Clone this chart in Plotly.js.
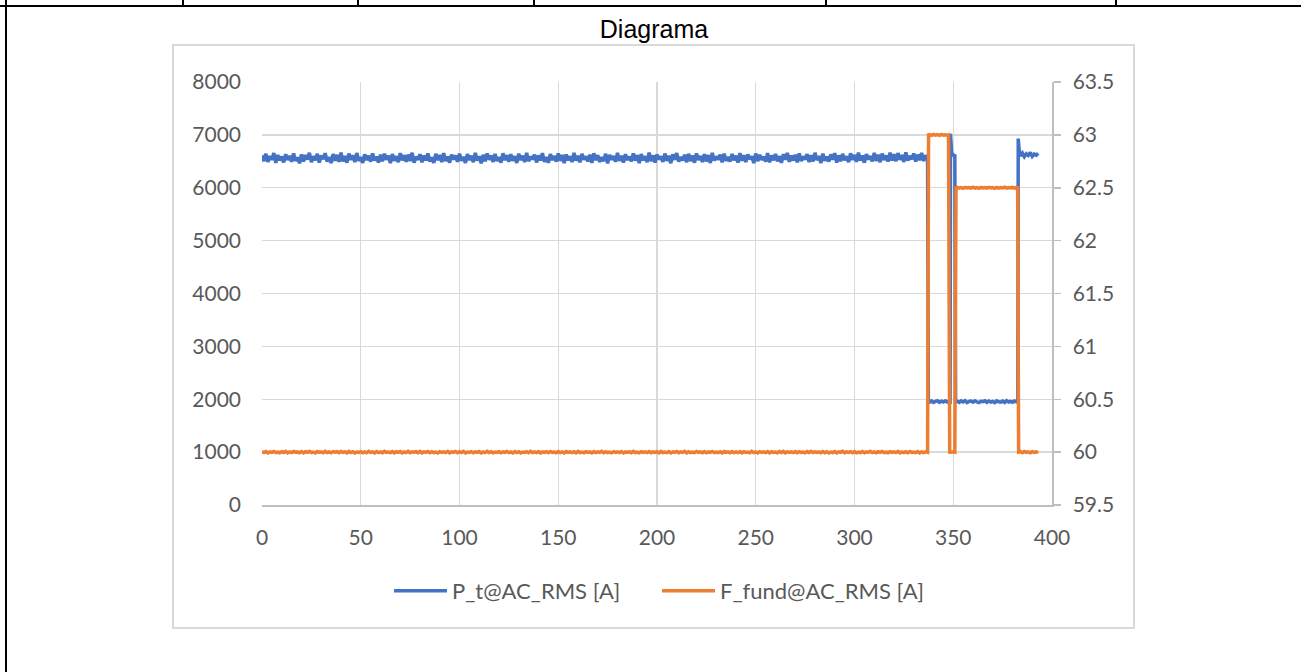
<!DOCTYPE html>
<html><head><meta charset="utf-8">
<script src="https://cdn.plot.ly/plotly-3.0.1.min.js"></script>
<style>
html,body{margin:0;padding:0;background:#fff;width:1301px;height:672px;overflow:hidden;}
#wrap{position:relative;width:1301px;height:672px;}
.ln{position:absolute;background:#000;}
#box{position:absolute;left:172px;top:44px;width:963px;height:585px;border:2px solid #d9d9d9;box-sizing:border-box;}
#chart{position:absolute;left:0;top:0;width:1301px;height:672px;}
</style></head>
<body>
<div id="wrap">
  <div class="ln" style="left:5px;top:0;width:2px;height:672px;"></div>
  <div class="ln" style="left:0;top:5px;width:1301px;height:2px;"></div>
  <div class="ln" style="left:182px;top:0;width:2px;height:6px;"></div>
  <div class="ln" style="left:357px;top:0;width:2px;height:6px;"></div>
  <div class="ln" style="left:533px;top:0;width:2px;height:6px;"></div>
  <div class="ln" style="left:825px;top:0;width:2px;height:6px;"></div>
  <div class="ln" style="left:1115px;top:0;width:2px;height:6px;"></div>
  <div id="box"></div>
  <div id="chart"></div>
</div>
<script>
// ---- Data ----
const seriesNames = ['P_t@AC_RMS [A]', 'F_fund@AC_RMS [A]'];
const chartTitle = 'Diagrama';

// P_t, steady part, one sample per second (t = 0 .. 337)
const pSteady = [
6611,6503,6642,6488,6597,6531,6655,6472,6620,6515,6588,6479,6634,6526,6602,6491,6648,6508,6575,6463,
6629,6497,6617,6534,6660,6482,6593,6519,6641,6476,6608,6540,6652,6495,6583,6467,6637,6512,6621,6489,
6664,6501,6599,6473,6646,6528,6613,6486,6657,6509,6580,6470,6631,6522,6604,6494,6649,6515,6590,6478,
6624,6499,6643,6532,6606,6465,6638,6511,6596,6484,6653,6520,6615,6490,6627,6505,6662,6476,6587,6529,
6633,6481,6609,6517,6650,6496,6578,6468,6640,6524,6618,6487,6656,6503,6592,6474,6628,6536,6611,6492,
6645,6509,6585,6471,6636,6527,6603,6483,6658,6514,6594,6462,6622,6500,6647,6530,6610,6488,6639,6506,
6579,6477,6651,6521,6616,6493,6635,6510,6598,6469,6644,6525,6607,6485,6661,6502,6589,6538,6626,6479,
6612,6516,6654,6490,6582,6473,6637,6528,6601,6495,6648,6508,6619,6466,6630,6519,6595,6486,6659,6512,
6606,6480,6641,6533,6591,6497,6625,6470,6652,6523,6614,6489,6577,6504,6643,6461,6620,6531,6599,6492,
6657,6507,6608,6475,6634,6526,6586,6498,6649,6513,6617,6468,6638,6520,6597,6484,6663,6502,6612,6478,
6628,6535,6593,6491,6646,6511,6604,6464,6632,6529,6655,6496,6581,6517,6623,6483,6642,6505,6609,6474,
6650,6524,6600,6487,6636,6499,6618,6469,6660,6514,6590,6532,6627,6481,6645,6508,6584,6493,6639,6521,
6605,6476,6653,6510,6615,6488,6631,6537,6594,6467,6647,6503,6622,6526,6588,6495,6656,6482,6611,6518,
6640,6500,6598,6472,6634,6529,6658,6491,6607,6515,6625,6479,6649,6506,6592,6534,6637,6486,6616,6497,
6661,6522,6603,6468,6644,6511,6587,6494,6629,6530,6654,6477,6613,6502,6641,6519,6596,6485,6650,6527,
6620,6490,6663,6513,6609,6474,6638,6536,6600,6498,6657,6509,6624,6483,6646,6525,6610,6496,6665,6516,
6632,6503,6655,6528,6618,6489,6667,6512,6602,6538,6648,6495,6626,6521,6659,6506,6614,6530
];
// P_t, event part
const pEventTime = [337.4,338,339,340,341,342,343,344,345,346,347,348,348.4,348.6,349.2,350.2,350.8,351.2,
352,353,354,355,356,357,358,359,360,361,362,363,364,365,366,367,368,369,370,371,372,373,374,375,376,377,378,379,380,381,382,
382.7,382.9,383.5,384,385,386,387,388,389,390,391,392,393];
const pEvent = [1958,1944,1967,1939,1958,1972,1941,1963,1948,1970,1945,1955,1950,7020,6660,6610,6630,1950,
1962,1941,1968,1947,1973,1938,1957,1965,1943,1970,1949,1936,1961,1954,1971,1940,1966,1945,1958,1935,1969,1952,1944,1964,1939,1973,1947,1960,1942,1967,1950,
1955,6930,6660,6602,6655,6588,6641,6610,6668,6594,6637,6615,6650];

// F_fund, steady part (t = 0 .. 337)
const fSteady = [
60.004,59.996,60.006,59.993,60.002,59.998,60.007,59.995,60.001,59.994,60.005,59.997,60.008,59.992,60.003,59.996,60.006,59.999,60.002,59.994,
60.005,59.993,60.004,59.997,60.007,59.995,60.001,59.992,60.006,59.998,60.003,59.994,60.008,59.996,60.002,59.993,60.005,59.999,60.004,59.995,
60.006,59.997,60.002,59.993,60.007,59.996,60.004,59.992,60.001,59.998,60.005,59.994,60.003,59.995,60.008,59.997,60.002,59.993,60.006,59.996,
60.003,59.994,60.007,59.998,60.001,59.995,60.005,59.992,60.004,59.997,60.006,59.993,60.002,59.996,60.008,59.994,60.003,59.999,60.005,59.995,
60.007,59.993,60.002,59.997,60.006,59.994,60.004,59.996,60.001,59.992,60.005,59.998,60.003,59.995,60.007,59.993,60.002,59.997,60.006,59.994,
60.004,59.996,60.008,59.993,60.001,59.997,60.005,59.994,60.003,59.998,60.006,59.992,60.002,59.995,60.007,59.996,60.004,59.993,60.001,59.997,
60.005,59.994,60.003,59.998,60.007,59.995,60.002,59.993,60.006,59.996,60.004,59.992,60.001,59.997,60.005,59.994,60.008,59.996,60.003,59.995,
60.006,59.993,60.002,59.997,60.004,59.995,60.007,59.998,60.001,59.994,60.005,59.996,60.003,59.992,60.006,59.997,60.002,59.995,60.004,59.993,
60.007,59.996,60.001,59.994,60.005,59.998,60.003,59.993,60.006,59.995,60.002,59.997,60.008,59.994,60.004,59.996,60.001,59.993,60.005,59.998,
60.003,59.995,60.006,59.992,60.002,59.997,60.004,59.994,60.007,59.996,60.001,59.993,60.005,59.998,60.003,59.995,60.006,59.994,60.002,59.997,
60.004,59.993,60.007,59.996,60.001,59.995,60.005,59.992,60.003,59.998,60.006,59.994,60.002,59.997,60.008,59.993,60.004,59.996,60.001,59.995,
60.006,59.997,60.003,59.994,60.005,59.993,60.002,59.998,60.007,59.995,60.001,59.996,60.004,59.992,60.006,59.997,60.003,59.994,60.005,59.996,
60.002,59.995,60.006,59.993,60.004,59.997,60.001,59.994,60.007,59.996,60.003,59.992,60.005,59.998,60.002,59.995,60.006,59.993,60.004,59.997,
60.001,59.994,60.005,59.996,60.008,59.993,60.003,59.997,60.002,59.995,60.006,59.994,60.004,59.998,60.001,59.993,60.005,59.996,60.007,59.995,
60.003,59.997,60.002,59.994,60.006,59.995,60.004,59.992,60.001,59.996,60.005,59.993,60.003,59.998,60.007,59.994,60.002,59.997,60.004,59.995,
60.006,59.993,60.001,59.996,60.005,59.994,60.003,59.997,60.008,59.995,60.002,59.993,60.004,59.998,60.006,59.996,60.001,59.994,60.005,59.997,
60.003,59.995,60.007,59.993,60.002,59.996,60.004,59.994,60.006,59.997,60.001,59.995,60.005,59.993,60.003,59.996,60.002,59.998
];
// F_fund, event part
const fEventTime = [337.5,338,339,340,341,342,343,344,345,346,347,347.6,348.2,349,350,350.8,351.4,
352,353,354,355,356,357,358,359,360,361,362,363,364,365,366,367,368,369,370,371,372,373,374,375,376,377,378,379,380,381,382,
382.6,383.1,384,385,386,387,388,389,390,391,392,393];
const fEvent = [63.0,63.003,62.996,63.004,62.998,63.002,62.995,63.005,62.997,63.001,62.996,63.0,60.0,59.998,60.003,60.0,62.5,
62.503,62.497,62.502,62.495,62.504,62.498,62.501,62.496,62.505,62.497,62.502,62.494,62.503,62.499,62.501,62.496,62.504,62.498,62.502,62.495,62.503,62.497,62.501,62.498,62.505,62.496,62.502,62.499,62.503,62.497,62.501,
62.5,60.0,60.004,59.995,60.006,59.997,60.002,59.994,60.005,59.998,60.003,59.996];

// ---- Build traces ----
const pTime = pSteady.map((_, i) => i).concat(pEventTime);
const pVals = pSteady.concat(pEvent);
const fTime = fSteady.map((_, i) => i).concat(fEventTime);
const fVals = fSteady.concat(fEvent);

const tickFont = {family: 'Lato, "Open Sans", sans-serif', size: 21, color: '#595959'};

const traces = [
  {x: pTime, y: pVals, name: seriesNames[0], type: 'scatter', mode: 'lines',
   line: {color: '#4472C4', width: 3.5, simplify: false}, yaxis: 'y'},
  {x: fTime, y: fVals, name: seriesNames[1], type: 'scatter', mode: 'lines',
   line: {color: '#ED7D31', width: 3.5, simplify: false}, yaxis: 'y2'}
];

const layout = {
  width: 1301, height: 672,
  margin: {l: 262, r: 249, t: 82, b: 167, pad: 0},
  paper_bgcolor: 'rgba(0,0,0,0)', plot_bgcolor: 'rgba(0,0,0,0)',
  title: {text: chartTitle, font: {family: '"Liberation Sans", Arial, sans-serif', size: 25, color: '#000'},
          x: 654/1301, xref: 'container', xanchor: 'center', y: 1 - 29/672, yref: 'container', yanchor: 'middle'},
  showlegend: true,
  legend: {orientation: 'h', x: 0.5, xanchor: 'center', y: -0.203, yanchor: 'middle',
           font: {family: 'Lato, "Open Sans", sans-serif', size: 22, color: '#595959'},
           itemwidth: 53, entrywidth: 200, entrywidthmode: 'pixels', bgcolor: 'rgba(0,0,0,0)'},
  xaxis: {range: [0, 400], tick0: 0, dtick: 50, showgrid: true, gridcolor: '#d9d9d9', gridwidth: 1.3,
          showline: true, linecolor: '#bfbfbf', linewidth: 1.5, zeroline: false, ticks: '',
          tickfont: tickFont, ticklabelstandoff: 13},
  yaxis: {range: [0, 8000], tick0: 0, dtick: 1000, showgrid: true, gridcolor: '#d9d9d9', gridwidth: 1.3,
          showline: false, zeroline: false, ticks: '', tickfont: tickFont, ticklabelstandoff: 20},
  yaxis2: {range: [59.5, 63.5], tick0: 59.5, dtick: 0.5, overlaying: 'y', side: 'right', showgrid: false,
           zeroline: false, showline: true, linecolor: '#bfbfbf', linewidth: 1.5, ticks: 'outside', ticklen: 7,
           tickcolor: '#bfbfbf', tickwidth: 1.5, tickfont: tickFont, ticklabelstandoff: 8}
};

Plotly.newPlot('chart', traces, layout, {displayModeBar: false, staticPlot: true}).then(gd => {
  // lengthen legend line samples to match the reference
  gd.querySelectorAll('.legend .legendlines path').forEach(p => p.setAttribute('d', 'M5,0h53'));
});
</script>
</body></html>
